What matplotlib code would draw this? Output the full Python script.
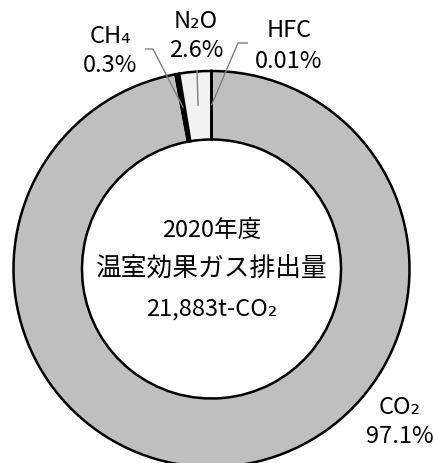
import numpy as np
import matplotlib.pyplot as plt

# data
gases = ['CO₂', 'CH₄', 'N₂O', 'HFC']
shares = [97.1, 0.3, 2.6, 0.01]
share_labels = ['97.1%', '0.3%', '2.6%', '0.01%']
colors = ['#bfbfbf', '#000000', '#f2f2f2', '#ffffff']
year_label = '2020年度'
title_label = '温室効果ガス排出量'
total_label = '21,883t-CO₂'

fonts = ['Noto Sans CJK JP', 'DejaVu Sans']

W, H = 433, 463
fig = plt.figure(figsize=(W / 100, H / 100), dpi=100)
ax = fig.add_axes([0, 0, 1, 1])

cx, cy = 211.5, H - 269
r_out, r_in = 198, 129.5
wedges, _ = ax.pie(shares, colors=colors, startangle=90, counterclock=False,
                   radius=r_out, center=(cx, cy),
                   wedgeprops=dict(width=r_out - r_in, edgecolor='black', linewidth=1.8))
ax.set_xlim(0, W)
ax.set_ylim(0, H)
ax.set_aspect('equal')
ax.axis('off')

# label positions (x center, baseline from top) for name / share
label_pos = {
    'CO₂': (400, 414, 443),
    'CH₄': (110, 43, 72),
    'N₂O': (196, 28, 57),
    'HFC': (289, 37, 68),
}
# leader line bends (pixels from top)
leader_pts = {
    'CH₄': [(153, 49), (145, 49)],
    'N₂O': [(197, 70)],
    'HFC': [(238, 43), (248, 43)],
}

r_mid = (r_out + r_in) / 2
for w, g in zip(wedges, gases):
    if g in leader_pts:
        th = np.deg2rad((w.theta1 + w.theta2) / 2)
        xs = [cx + r_mid * np.cos(th)] + [p[0] for p in leader_pts[g]]
        ys = [cy + r_mid * np.sin(th)] + [H - p[1] for p in leader_pts[g]]
        ax.plot(xs, ys, color='#7f7f7f', lw=1.0, solid_capstyle='butt')

for g, s in zip(gases, share_labels):
    x, b1, b2 = label_pos[g]
    ax.text(x, H - b1, g, ha='center', va='baseline', fontsize=17, family=fonts)
    ax.text(x, H - b2, s, ha='center', va='baseline', fontsize=17, family=fonts)

ax.text(cx, H - 237, year_label, ha='center', va='baseline', fontsize=17, family=fonts)
ax.text(cx, H - 277, title_label, ha='center', va='baseline', fontsize=18.5, family=fonts)
ax.text(cx, H - 316, total_label, ha='center', va='baseline', fontsize=17, family=fonts)

fig.savefig('out.png', dpi=100, facecolor='white')
